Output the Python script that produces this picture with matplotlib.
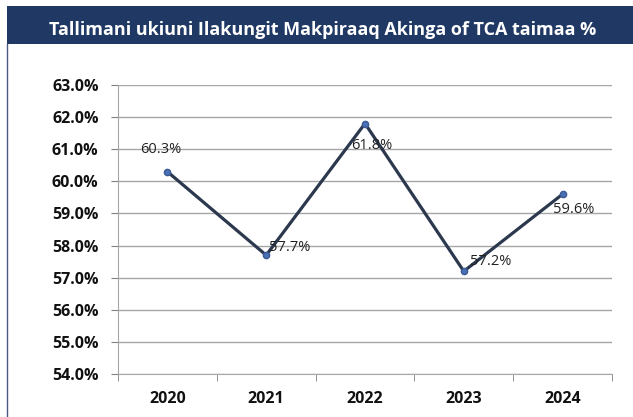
import matplotlib
matplotlib.use("Agg")
import matplotlib.pyplot as plt
from matplotlib.patches import Rectangle
from matplotlib.lines import Line2D
from matplotlib.ticker import FuncFormatter, FixedLocator

years = ["2020", "2021", "2022", "2023", "2024"]
values = [60.3, 57.7, 61.8, 57.2, 59.6]
label_offsets = [(-7, 22), (3, 8), (7, -22), (6, 10), (11, -15)]
label_ha = ["center", "left", "center", "left", "center"]
title = "Tallimani ukiuni Ilakungit Makpiraaq Akinga of TCA taimaa %"

plt.rcParams['font.family'] = ['Open Sans', 'DejaVu Sans']

W, H = 633, 417
fig = plt.figure(figsize=(W / 100, H / 100), dpi=100)
fig.patch.set_facecolor("white")

# title banner
fig.patches.append(Rectangle((7 / W, 1 - 44 / H), 1 - 7 / W, 38 / H,
                             transform=fig.transFigure, facecolor="#1F3864",
                             edgecolor="none", zorder=0))
fig.text(323 / W, 1 - 30 / H, title, color="white", fontsize=13.0,
         fontweight="bold", ha="center", va="center")
fig.lines.append(Line2D([7.5 / W, 7.5 / W], [0, 1 - 44 / H], transform=fig.transFigure,
                        color="#4A5A85", lw=1.0))

ax = fig.add_axes([118 / W, 43 / H, 494 / W, 289 / H])
x = list(range(len(years)))
ax.plot(x, values, color="#2B384D", lw=2.3, marker="o", markersize=4.5,
        markerfacecolor="#4A70B5", markeredgecolor="#3A5A95", zorder=3)

for xi, v, (dx, dy), ha in zip(x, values, label_offsets, label_ha):
    ax.annotate(f"{v:.1f}%", (xi, v), xytext=(dx * 0.72, dy * 0.72),
                textcoords="offset points", ha=ha, va="center", fontsize=10.5,
                color="#222222", zorder=4)

ax.set_xlim(-0.5, len(years) - 0.5)
ax.set_ylim(54, 63)
ax.set_yticks([54, 55, 56, 57, 58, 59, 60, 61, 62, 63])
ax.yaxis.set_major_formatter(FuncFormatter(lambda v, p: f"{v:.1f}%"))
ax.set_xticks(x)
ax.set_xticklabels(years)
ax.xaxis.set_minor_locator(FixedLocator([i - 0.5 for i in range(len(years) + 1)]))
ax.tick_params(axis="x", which="major", length=0, pad=12, labelsize=11.5)
ax.tick_params(axis="x", which="minor", length=5, color="#808080", direction="out")
ax.tick_params(axis="y", length=5, color="#808080", pad=9, labelsize=11.5)
for lab in ax.get_xticklabels() + ax.get_yticklabels():
    lab.set_fontweight("bold")
    lab.set_color("#111111")

ax.grid(axis="y", color="#A6A6A6", lw=1)
ax.set_axisbelow(True)
for s in ["top", "right"]:
    ax.spines[s].set_visible(False)
ax.spines["left"].set_color("#A6A6A6")
ax.spines["bottom"].set_color("#A6A6A6")
ax.set_facecolor("white")

fig.savefig("out.png", dpi=100)
